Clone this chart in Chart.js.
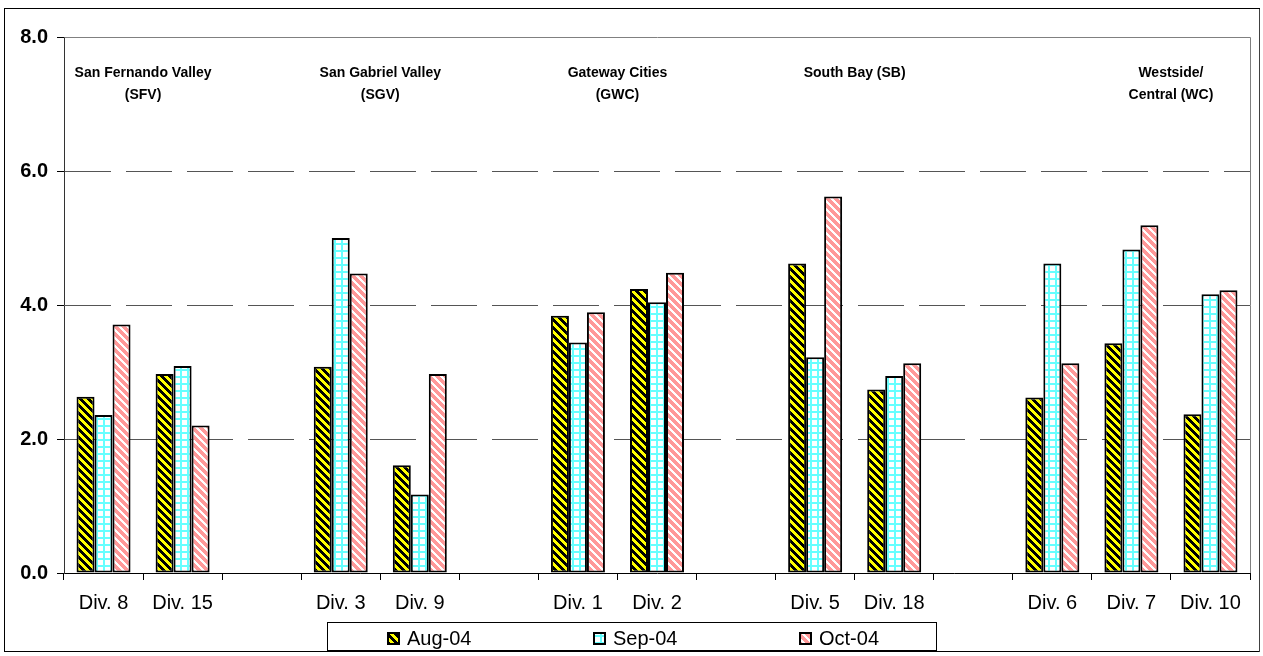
<!DOCTYPE html>
<html>
<head>
<meta charset="utf-8">
<script src="https://cdn.jsdelivr.net/npm/chart.js@4/dist/chart.umd.min.js"></script>
<style>
  html, body { margin: 0; padding: 0; background: #fff; }
  #wrap { width: 1263px; height: 656px; position: relative; }
</style>
</head>
<body>
<div id="wrap"><canvas id="chart" width="1263" height="656"></canvas></div>
<script>
// Divisions on the category axis (blank slots separate the regions)
const categories = ['Div. 8', 'Div. 15', '', 'Div. 3', 'Div. 9', '', 'Div. 1', 'Div. 2', '', 'Div. 5', 'Div. 18', '', 'Div. 6', 'Div. 7', 'Div. 10'];

// Monthly values per division
const aug04 = [2.63, 2.97, null, 3.08, 1.61, null, 3.84, 4.24, null, 4.62, 2.74, null, 2.62, 3.43, 2.37];
const sep04 = [2.36, 3.09, null, 5.00, 1.17, null, 3.44, 4.04, null, 3.22, 2.94, null, 4.62, 4.83, 4.16];
const oct04 = [3.71, 2.20, null, 4.47, 2.97, null, 3.89, 4.48, null, 5.62, 3.13, null, 3.13, 5.19, 4.22];
const seriesLabels = ['Aug-04', 'Sep-04', 'Oct-04'];

// Value axis ticks
const yTicks = [0, 2, 4, 6, 8];

// Region captions, placed at a category position (x.5 = between two divisions)
const regionLine1 = ['San Fernando Valley', 'San Gabriel Valley', 'Gateway Cities', 'South Bay (SB)', 'Westside/'];
const regionLine2 = ['(SFV)', '(SGV)', '(GWC)', '', 'Central (WC)'];
const regionAt = [0.5, 3.5, 6.5, 9.5, 13.5];

const FONT = "'Liberation Sans', Arial, Helvetica, sans-serif";

// Fill patterns
function makeTile(size, paint) {
  const c = document.createElement('canvas');
  c.width = size; c.height = size;
  const g = c.getContext('2d');
  paint(g, size);
  return g.createPattern(c, 'repeat');
}
function diagonal(bg, fg, period, width) {
  return makeTile(period, (g, n) => {
    g.fillStyle = bg; g.fillRect(0, 0, n, n);
    g.fillStyle = fg;
    for (let y = 0; y < n; y++) {
      for (let x = 0; x < n; x++) {
        if ((((x - y) % n) + n) % n < width) g.fillRect(x, y, 1, 1);
      }
    }
  });
}
const augFill = diagonal('#FFFF00', '#000000', 8, 4);
const sepFill = makeTile(7, (g, n) => {
  g.fillStyle = '#FFFFFF'; g.fillRect(0, 0, n, n);
  g.fillStyle = '#66FFFF';
  g.fillRect(0, n - 2, n, 2);
  g.fillRect(n - 2, 0, 2, n);
});
const octFill = diagonal('#FF9999', '#FFFFFF', 8, 3);
const fills = [augFill, sepFill, octFill];

// Outer frame, plot frame, region captions and boxed legend
const decorations = {
  id: 'decorations',
  beforeDatasetsDraw(chart) {
    const { ctx, chartArea: a } = chart;
    ctx.save();
    ctx.strokeStyle = '#808080';
    ctx.lineWidth = 1;
    ctx.beginPath();
    ctx.moveTo(Math.round(a.left) + 0.5, Math.round(a.top) + 0.5);
    ctx.lineTo(Math.round(a.right) + 0.5, Math.round(a.top) + 0.5);
    ctx.lineTo(Math.round(a.right) + 0.5, Math.round(a.bottom));
    ctx.stroke();
    ctx.restore();
  },
  afterDraw(chart) {
    const { ctx } = chart;
    const x = chart.scales.x;
    ctx.save();
    // outer frame
    ctx.strokeStyle = '#000';
    ctx.lineWidth = 1;
    ctx.strokeRect(4.5, 8.5, 1255, 643);
    ctx.fillStyle = '#404040';
    ctx.fillRect(1259, 9, 1, 643);

    // region captions
    ctx.fillStyle = '#000';
    ctx.font = 'bold 14px ' + FONT;
    ctx.textAlign = 'center';
    ctx.textBaseline = 'alphabetic';
    regionAt.forEach((pos, i) => {
      const px = x.getPixelForValue(pos);
      ctx.fillText(regionLine1[i], px, 77);
      if (regionLine2[i]) ctx.fillText(regionLine2[i], px, 99);
    });

    // legend
    const boxL = 327, boxR = 936, boxT = 622, boxB = 650;
    ctx.strokeStyle = '#000';
    ctx.lineWidth = 1;
    ctx.strokeRect(boxL + 0.5, boxT + 0.5, boxR - boxL, boxB - boxT);
    ctx.font = '20px ' + FONT;
    ctx.textAlign = 'left';
    const startX = 387, step = 206;
    chart.data.datasets.forEach((ds, i) => {
      const sx = startX + i * step;
      ctx.fillStyle = ds.backgroundColor;
      ctx.fillRect(sx, 632, 13, 13);
      ctx.strokeStyle = '#000';
      ctx.lineWidth = 2;
      ctx.strokeRect(sx + 1, 633, 11, 11);
      ctx.fillStyle = '#000';
      ctx.fillText(ds.label, sx + 20, 645);
    });
    ctx.restore();
  }
};

const seriesValues = [aug04, sep04, oct04];

new Chart(document.getElementById('chart'), {
  type: 'bar',
  data: {
    labels: categories,
    datasets: seriesValues.map((vals, i) => ({
      label: seriesLabels[i],
      data: vals,
      backgroundColor: fills[i],
      borderColor: '#000000',
      borderWidth: 2,
      borderSkipped: false,
      categoryPercentage: 0.683,
      barPercentage: 1.0
    }))
  },
  options: {
    responsive: false,
    animation: false,
    devicePixelRatio: 1,
    layout: { padding: { top: 37, right: 13, bottom: 0, left: 0 } },
    plugins: {
      legend: { display: false },
      tooltip: { enabled: false }
    },
    scales: {
      x: {
        grid: {
          offset: true,
          drawOnChartArea: false,
          drawTicks: true,
          tickLength: 7,
          tickColor: '#000',
          color: '#000'
        },
        border: { color: '#000', width: 1 },
        ticks: {
          font: { family: FONT, size: 20 },
          color: '#000',
          padding: 11,
          autoSkip: false,
          maxRotation: 0
        },
        afterFit(s) { s.height = 83; }
      },
      y: {
        min: 0,
        max: 8,
        afterBuildTicks(s) { s.ticks = yTicks.map(v => ({ value: v })); },
        ticks: {
          font: { family: FONT, size: 20, weight: 'bold' },
          color: '#000',
          padding: 9,
          callback: v => Number(v).toFixed(1)
        },
        grid: {
          color: c => (c.tick && (c.tick.value === 0 || c.tick.value === 8)) ? 'rgba(0,0,0,0)' : '#555555',
          lineWidth: 1,
          tickLength: 7,
          tickColor: '#000',
          drawTicks: true
        },
        border: { color: '#333', width: 1, dash: [46, 15] },
        afterFit(s) { s.width = 64; }
      }
    }
  },
  plugins: [decorations]
});
</script>
</body>
</html>
